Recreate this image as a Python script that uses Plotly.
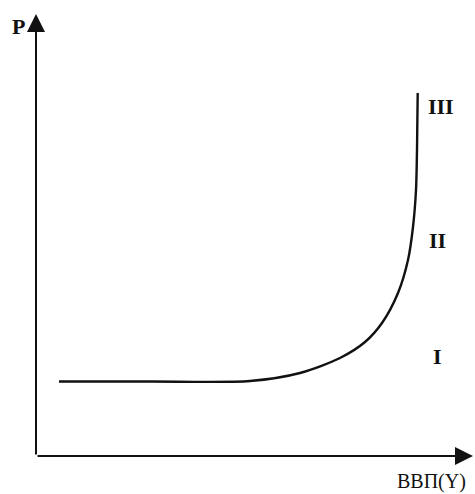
import plotly.graph_objects as go

# Aggregate supply curve (chart units: origin at the axes' corner)
output_y = [23, 114, 214, 264, 304, 329, 346, 362, 372, 377, 380, 381, 381.7]
price_p = [74.5, 74.5, 75, 83, 98, 114, 133, 163, 196, 229, 266, 306, 363]

x_axis_end = 437
y_axis_end = 442

segment_labels = ["I", "II", "III"]
segment_label_x = [401.5, 401.5, 405]
segment_label_y = [100, 216, 350]

fig = go.Figure()
fig.add_trace(go.Scatter(
    x=output_y, y=price_p, mode="lines",
    line=dict(color="#111111", width=2.4, shape="spline", smoothing=0.8),
    hoverinfo="skip", showlegend=False,
))

# axes with arrows
fig.add_annotation(x=0, y=y_axis_end, ax=0, ay=0, xref="x", yref="y", axref="x", ayref="y",
                   showarrow=True, arrowhead=2, arrowsize=1.8, arrowwidth=2, arrowcolor="#111111",
                   standoff=0, text="")
fig.add_annotation(x=x_axis_end, y=0, ax=0, ay=0, xref="x", yref="y", axref="x", ayref="y",
                   showarrow=True, arrowhead=2, arrowsize=1.8, arrowwidth=2, arrowcolor="#111111",
                   standoff=0, text="")

font = dict(family="Liberation Serif", size=22, color="#111111")
fig.add_annotation(x=-17.5, y=429.5, text="<b>P</b>", showarrow=False, font=font,
                   xref="x", yref="y")
fig.add_annotation(x=395, y=-25.5, text="ВВП(Y)", showarrow=False,
                   font=dict(family="Liberation Serif", size=20, color="#111111"),
                   xref="x", yref="y")
for t, lx, ly in zip(segment_labels, segment_label_x, segment_label_y):
    fig.add_annotation(x=lx, y=ly, text="<b>" + t + "</b>", showarrow=False,
                       font=font, xref="x", yref="y")

fig.update_layout(
    width=475, height=494,
    margin=dict(l=0, r=0, t=0, b=0),
    paper_bgcolor="white", plot_bgcolor="white",
    xaxis=dict(range=[-36, 439], visible=False, fixedrange=True),
    yaxis=dict(range=[-38, 456], visible=False, fixedrange=True),
)
fig.write_html(
    "out.html",
    config={"displayModeBar": False},
    post_script="document.body.style.margin='0';document.body.style.overflow='hidden';",
)
